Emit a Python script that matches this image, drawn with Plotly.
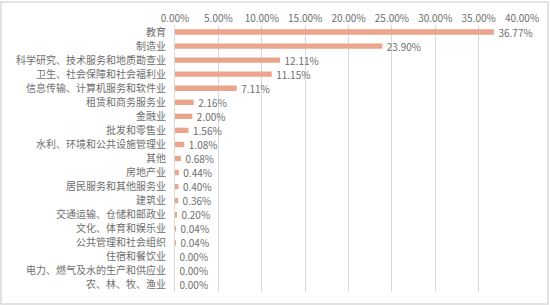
import plotly.graph_objects as go

categories = ["教育", "制造业", "科学研究、技术服务和地质勘查业", "卫生、社会保障和社会福利业",
              "信息传输、计算机服务和软件业", "租赁和商务服务业", "金融业", "批发和零售业",
              "水利、环境和公共设施管理业", "其他", "房地产业", "居民服务和其他服务业", "建筑业",
              "交通运输、仓储和邮政业", "文化、体育和娱乐业", "公共管理和社会组织", "住宿和餐饮业",
              "电力、燃气及水的生产和供应业", "农、林、牧、渔业"]
values = [36.77, 23.90, 12.11, 11.15, 7.11, 2.16, 2.00, 1.56, 1.08, 0.68, 0.44, 0.40, 0.36,
          0.20, 0.04, 0.04, 0.00, 0.00, 0.00]
tick_vals = [0, 5, 10, 15, 20, 25, 30, 35, 40]
tick_text = ["0.00%", "5.00%", "10.00%", "15.00%", "20.00%", "25.00%", "30.00%", "35.00%", "40.00%"]

W, H = 550, 305
ml, mr, mt, mb = 175, 28, 25, 13
pw, ph = W - ml - mr, H - mt - mb
txt_color = "#6E6E6E"

fig = go.Figure(go.Bar(
    x=values, y=categories, orientation="h",
    marker=dict(color="#EBA58C", line=dict(width=0)),
    text=["\u00a0\u00a0" + f"{v:.2f}%" for v in values], textposition="outside",
    constraintext="none",
    textfont=dict(size=10, color=txt_color), cliponaxis=False,
))

fig.update_layout(
    width=W, height=H, margin=dict(l=ml, r=mr, t=mt, b=mb, autoexpand=False),
    paper_bgcolor="white", plot_bgcolor="white",
    font=dict(family="Noto Sans CJK SC", size=10, color=txt_color),
    bargap=0.62, showlegend=False, uniformtext=dict(minsize=10, mode="show"),
    xaxis=dict(range=[0, 40], side="top", tickvals=tick_vals, ticktext=tick_text,
               showgrid=True, gridcolor="#D9D9D9", gridwidth=1, zeroline=False, automargin=False,
               showline=False, ticks="", tickfont=dict(size=10, color=txt_color)),
    yaxis=dict(autorange="reversed", showgrid=False, showline=True, linecolor="#D9D9D9",
               automargin=False,
               ticks="", ticklabelstandoff=6, tickfont=dict(size=10, color=txt_color)),
    shapes=[dict(type="rect", xref="paper", yref="paper",
                 x0=(1 - ml) / pw, x1=(W - 2 - ml) / pw,
                 y0=(1 - mb) / ph, y1=(H - 2 - mb) / ph,
                 line=dict(color="#D9D9D9", width=1.5), fillcolor="rgba(0,0,0,0)", layer="below")],
)

fig.write_html("out.html")
